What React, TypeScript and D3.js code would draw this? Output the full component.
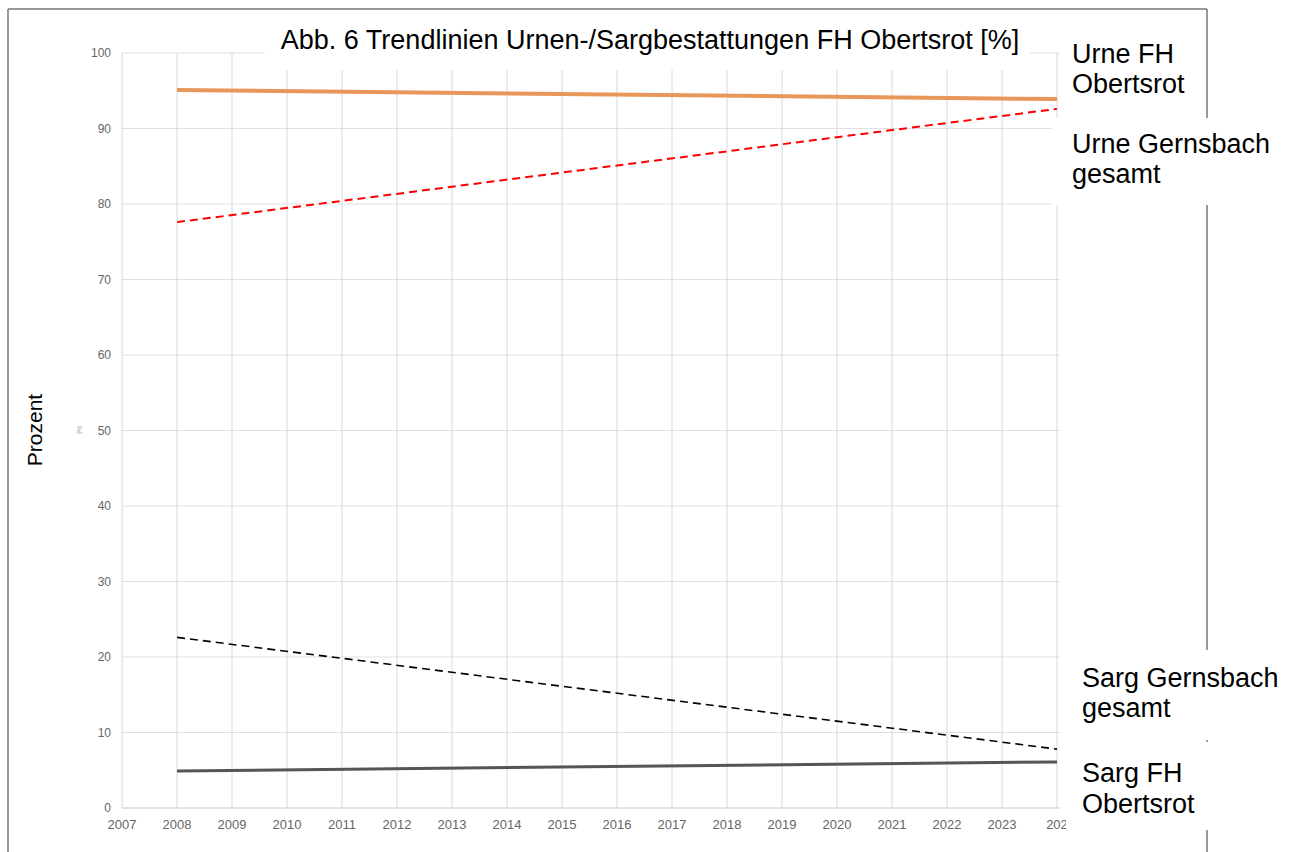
import React, { useEffect } from "react";
import * as d3 from "d3";

const title = "Abb. 6 Trendlinien Urnen-/Sargbestattungen FH Obertsrot [%]";
const xTicks = d3.range(2007, 2025);
const yTicks = d3.range(0, 101, 10);

// trend lines, start / end values
const trendYears = [2008, 2024];
const urneFH = [95.1, 93.9];
const urneGernsbach = [77.6, 92.6];
const sargGernsbach = [22.6, 7.8];
const sargFH = [4.9, 6.1];

const W = 1293;
const H = 852;

const App = () => {
  useEffect(() => {
    document.body.style.margin = "0";
  }, []);

  const x = d3.scaleLinear().domain([2007, 2024]).range([122, 1057]);
  const y = d3.scaleLinear().domain([0, 100]).range([808, 53]);
  const line = d3
    .line<number>()
    .x((_, i) => x(trendYears[i]))
    .y((d) => y(d));

  const font = "Liberation Sans, Arial, sans-serif";

  return (
    <svg width={W} height={H} style={{ display: "block", background: "#fff" }}>
      {/* outer frame */}
      <line x1={8} y1={9} x2={1207} y2={9} stroke="#777" strokeWidth={1.5} />
      <line x1={8} y1={9} x2={8} y2={H} stroke="#777" strokeWidth={1.5} />
      <line x1={1207} y1={9} x2={1207} y2={H} stroke="#555" strokeWidth={1.2} />

      {/* grid */}
      {yTicks.map((t) => (
        <line key={"h" + t} x1={x(2007)} x2={1060} y1={y(t)} y2={y(t)} stroke={t === 0 ? "#c8c8c8" : "#e0e0e0"} strokeWidth={1} />
      ))}
      {xTicks.map((t) => (
        <line key={"v" + t} x1={x(t)} x2={x(t)} y1={y(100)} y2={y(0)} stroke="#d8d8d8" strokeWidth={1} />
      ))}

      {/* axis labels */}
      {yTicks.map((t) => (
        <text key={"yl" + t} x={111} y={y(t) + 4} textAnchor="end" fontSize={12} fill="#666" fontFamily={font}>
          {t}
        </text>
      ))}
      {xTicks.map((t) => (
        <text key={"xl" + t} x={x(t)} y={829} textAnchor="middle" fontSize={13} fill="#666" fontFamily={font}>
          {t === 2024 ? "202" : t}
        </text>
      ))}

      {/* title box */}
      <rect x={265} y={18} width={765} height={52} fill="#fff" />
      <text x={650} y={49} textAnchor="middle" fontSize={27} fill="#000" fontFamily={font}>
        {title}
      </text>

      <text transform="translate(42,430) rotate(-90)" textAnchor="middle" fontSize={21} fill="#000" fontFamily={font}>
        Prozent
      </text>
      <text transform="translate(81,430) rotate(-90)" textAnchor="middle" fontSize={5} fill="#888" fontFamily={font}>
        [%]
      </text>

      {/* trend lines */}
      <path d={line(urneFH) ?? ""} fill="none" stroke="#e8975a" strokeWidth={4} />
      <path d={line(urneGernsbach) ?? ""} fill="none" stroke="#ff0000" strokeWidth={2} strokeDasharray="8,5" />
      <path d={line(sargGernsbach) ?? ""} fill="none" stroke="#000" strokeWidth={1.6} strokeDasharray="8,5" />
      <path d={line(sargFH) ?? ""} fill="none" stroke="#555" strokeWidth={3} />

      {/* series labels */}
      <rect x={1060} y={30} width={146} height={80} fill="#fff" />
      <text x={1072} y={63} fontSize={27} fill="#000" fontFamily={font}>Urne FH</text>
      <text x={1072} y={93} fontSize={27} fill="#000" fontFamily={font}>Obertsrot</text>

      <rect x={1052} y={118} width={240} height={87} fill="#fff" />
      <text x={1072} y={153} fontSize={27} fill="#000" fontFamily={font}>Urne Gernsbach</text>
      <text x={1072} y={183} fontSize={27} fill="#000" fontFamily={font}>gesamt</text>

      <rect x={1066} y={650} width={226} height={90} fill="#fff" />
      <text x={1082} y={687} fontSize={27} fill="#000" fontFamily={font}>Sarg Gernsbach</text>
      <text x={1082} y={717} fontSize={27} fill="#000" fontFamily={font}>gesamt</text>

      <rect x={1066} y={742} width={226} height={88} fill="#fff" />
      <text x={1082} y={782} fontSize={27} fill="#000" fontFamily={font}>Sarg FH</text>
      <text x={1082} y={813} fontSize={27} fill="#000" fontFamily={font}>Obertsrot</text>
    </svg>
  );
};

export default App;
